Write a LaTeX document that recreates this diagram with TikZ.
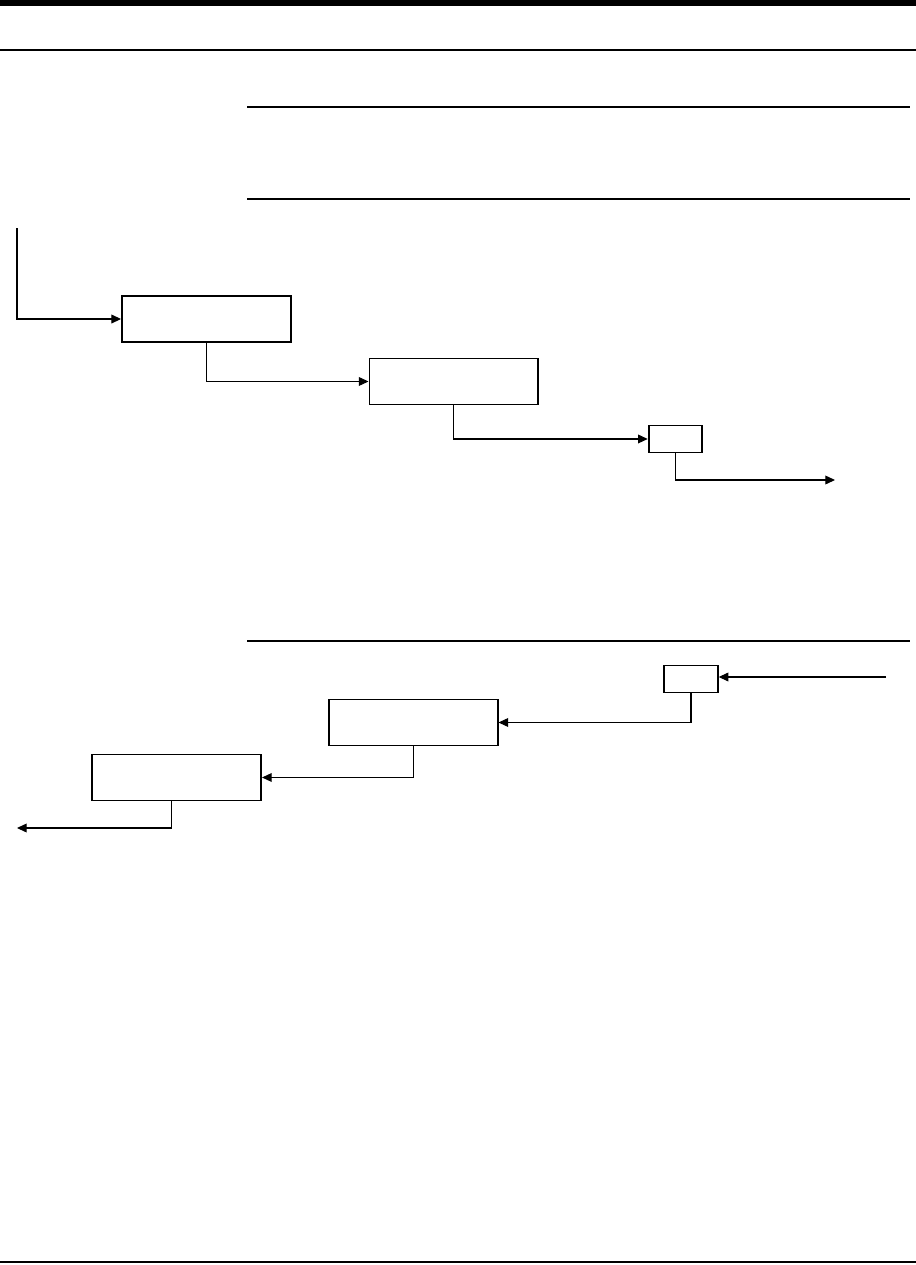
\documentclass[tikz,border=0pt]{standalone}
\usepackage{xcolor}
\usepackage{tikz}
\usetikzlibrary{positioning,calc}
\usetikzlibrary{arrows.meta}
\tikzstyle{wideBox} =[rectangle, draw, line width=1.1pt, inner sep=0pt, minimum width=3.38cm, minimum height=0.92cm]
\tikzstyle{smallBox}=[rectangle, draw, line width=1.1pt, inner sep=0pt, minimum width=1.07cm, minimum height=0.54cm]
\tikzstyle{flowArrow}=[-{Triangle[length=5.5pt,width=5pt]}, line width=0.6pt]
\tikzstyle{ruleLine}=[line width=0.6pt]

\begin{document}
\begin{tikzpicture}[x=0.02cm, y=-0.02cm, on grid]
      \useasboundingbox (0,0) rectangle (916,1265);
      % page rules
      \fill (0,0) rectangle (916,6);
      \draw[ruleLine] (0,50) -- (916,50);
      \draw[ruleLine] (247,107) -- (910,107);
      \draw[ruleLine] (247,199) -- (910,199);
      \draw[ruleLine] (247,641) -- (910,641);
      \draw[line width=1pt] (0,1262) -- (916,1262);
      % upper chain
      \node[wideBox]  (b1) at (206.5,319) {};
      \node[wideBox]  (b2) [below right = 1.25cm and 4.95cm of b1] {};
      \node[smallBox] (b3) [below right = 1.15cm and 4.43cm of b2] {};
      \coordinate (inA)  at (17,228);
      \coordinate (outA) at (835,480);
      \draw[flowArrow] (inA) |- (b1.west);
      \draw[flowArrow] (b1.south) |- (b2.west);
      \draw[flowArrow] (b2.south) |- (b3.west);
      \draw[flowArrow] (b3.south) |- (outA);
      % lower chain
      \node[smallBox] (b4) at (691,679) {};
      \node[wideBox]  (b5) [below left = 0.87cm and 5.56cm of b4] {};
      \node[wideBox]  (b6) [below left = 1.1cm and 4.73cm of b5] {};
      \coordinate (inB)  at (886,677);
      \coordinate (outB) at (17,828);
      \draw[flowArrow] (inB) -- (b4.east |- inB);
      \draw[flowArrow] (b4.south) |- (b5.east);
      \draw[flowArrow] (b5.south) |- (b6.east);
      \draw[flowArrow] ([xshift=-0.11cm]b6.south) |- (outB);
    \end{tikzpicture}
\end{document}
